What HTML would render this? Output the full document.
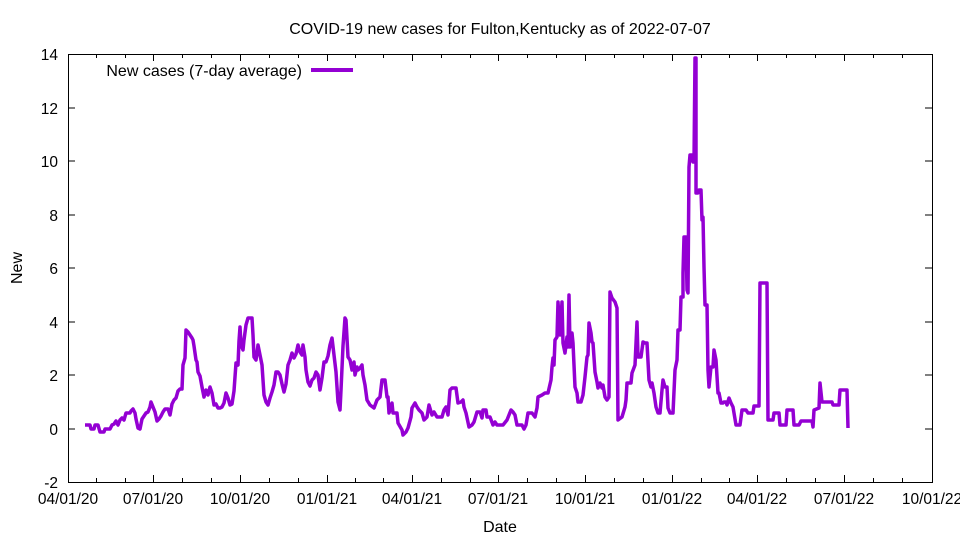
<!DOCTYPE html>
<html><head><meta charset="utf-8"><style>body{margin:0;background:#fff}svg{display:block}text{font-family:"Liberation Sans",sans-serif;font-size:16px;fill:#000}.t{font-size:15.5px}</style></head><body>
<svg width="960" height="540" viewBox="0 0 960 540" xmlns="http://www.w3.org/2000/svg">
<rect width="960" height="540" fill="#fff"/>
<text x="500" y="34" text-anchor="middle">COVID-19 new cases for Fulton,Kentucky as of 2022-07-07</text>
<g stroke="#000" stroke-width="1" fill="none">
<rect x="68.5" y="54.5" width="864" height="428"/>
<path d="M68 429h7M932 429h-7M68 375h7M932 375h-7M68 322h7M932 322h-7M68 268h7M932 268h-7M68 215h7M932 215h-7M68 161h7M932 161h-7M68 108h7M932 108h-7"/>
<path d="M153.5 482v-7M240.5 482v-7M327.5 482v-7M412.5 482v-7M498.5 482v-7M585.5 482v-7M672.5 482v-7M757.5 482v-7M844.5 482v-7M153.5 54v7M240.5 54v7M327.5 54v7M412.5 54v7M498.5 54v7M585.5 54v7M672.5 54v7M757.5 54v7M844.5 54v7"/>
<path d="M96.5 482v-4M125.5 482v-4M182.5 482v-4M211.5 482v-4M269.5 482v-4M298.5 482v-4M355.5 482v-4M383.5 482v-4M441.5 482v-4M470.5 482v-4M527.5 482v-4M556.5 482v-4M614.5 482v-4M643.5 482v-4M701.5 482v-4M729.5 482v-4M786.5 482v-4M815.5 482v-4M873.5 482v-4M902.5 482v-4M96.5 54v4M125.5 54v4M182.5 54v4M211.5 54v4M269.5 54v4M298.5 54v4M355.5 54v4M383.5 54v4M441.5 54v4M470.5 54v4M527.5 54v4M556.5 54v4M614.5 54v4M643.5 54v4M701.5 54v4M729.5 54v4M786.5 54v4M815.5 54v4M873.5 54v4M902.5 54v4"/>
</g>
<g text-anchor="end" class="t">
<text class="t" x="58" y="60">14</text><text class="t" x="58" y="114">12</text><text class="t" x="58" y="167">10</text><text class="t" x="58" y="221">8</text><text class="t" x="58" y="274">6</text><text class="t" x="58" y="328">4</text><text class="t" x="58" y="381">2</text><text class="t" x="58" y="435">0</text><text class="t" x="58" y="488">-2</text>
</g>
<g text-anchor="middle">
<text class="t" x="68" y="504">04/01/20</text><text class="t" x="153" y="504">07/01/20</text><text class="t" x="240" y="504">10/01/20</text><text class="t" x="327" y="504">01/01/21</text><text class="t" x="412" y="504">04/01/21</text><text class="t" x="498" y="504">07/01/21</text><text class="t" x="585" y="504">10/01/21</text><text class="t" x="672" y="504">01/01/22</text><text class="t" x="757" y="504">04/01/22</text><text class="t" x="844" y="504">07/01/22</text><text class="t" x="932" y="504">10/01/22</text>
<text x="500" y="532">Date</text>
<text x="0" y="0" transform="translate(22,268) rotate(-90)">New</text>
</g>
<text x="302" y="76" text-anchor="end">New cases (7-day average)</text>
<path d="M311 70h42" stroke="#9400d3" stroke-width="4"/>
<polyline fill="none" stroke="#9400d3" stroke-width="3.5" stroke-linejoin="round" points="85,425 90,425 91,429 94,429 95,425 98,425 100,432 104,432 105,429 110,429 112,425 114,424 116,421 118,425 120,420 122,418 124,420 126,413 130,413 131,411 133,409 135,413 136,419 138,428 140,429 142,419 144,416 146,413 148,412 150,407 151,402 153,407 155,412 157,421 159,419 161,416 163,412 165,409 168,409 170,415 172,404 174,400 176,398 178,391 180,389 182,389 183,365 185,358 186,330 188,332 190,335 192,338 193,340 194,346 196,360 197,362 198,372 200,376 202,387 204,397 206,390 208,395 210,387 212,393 214,405 216,404 218,408 220,408 222,407 224,403 226,393 228,398 230,405 232,404 234,391 236,363 238,365 239,341 240,327 241,345 243,350 244,340 246,325 248,318 252,318 253,335 254,357 256,360 257,353 258,345 260,355 262,365 264,395 266,402 268,405 270,398 272,392 274,385 276,372 278,372 280,375 282,384 284,392 286,384 288,365 290,360 292,353 294,358 296,354 298,345 300,352 302,355 303,345 305,357 306,370 308,382 310,386 312,380 314,378 316,372 318,375 320,390 322,378 324,362 326,362 328,356 330,345 332,338 334,355 336,372 338,402 340,410 341,390 343,346 345,318 346,320 348,357 350,360 352,370 354,362 355,375 357,367 358,370 360,368 362,365 363,375 365,385 367,400 370,405 374,408 377,400 380,397 382,380 385,380 387,397 388,397 389,413 392,403 393,413 397,413 398,423 402,430 403,435 406,432 408,428 411,417 412,408 415,403 417,407 419,410 422,413 424,420 427,417 429,405 432,415 434,412 437,417 442,417 444,410 446,407 448,415 450,390 452,388 456,388 458,403 461,402 463,400 464,407 466,413 469,427 472,425 474,422 477,412 480,412 482,418 483,410 486,410 487,417 490,417 493,425 495,422 497,425 503,425 507,420 511,410 513,412 515,415 517,425 522,425 524,429 526,425 528,413 532,413 535,417 537,408 538,397 542,395 545,393 548,393 551,380 552,367 553,358 554,365 555,340 557,337 558,302 560,335 562,302 563,343 565,353 567,337 568,347 569,295 570,347 572,333 573,343 575,387 577,393 578,402 581,402 583,395 585,377 587,357 588,355 589,323 591,333 592,342 593,343 595,372 597,382 598,388 600,383 602,388 603,385 605,397 607,400 609,397 610,292 612,298 615,302 617,308 618,420 622,417 625,407 626,400 627,383 631,383 632,373 635,365 637,322 638,357 641,357 643,342 645,343 647,343 649,380 651,387 652,383 654,393 656,407 658,413 660,413 662,390 663,380 665,387 667,387 668,408 670,413 673,413 675,370 677,360 678,330 680,330 681,297 683,297 683,273 684,237 686,237 687,290 688,293 689,167 690,155 692,155 693,162 694,162 695,58 696,58 696,193 698,193 699,190 701,190 702,220 703,217 704,267 705,305 707,305 708,370 709,387 711,367 713,367 714,350 716,360 718,393 719,393 721,403 723,403 724,402 726,402 727,405 729,398 731,403 733,407 734,413 736,425 740,425 742,410 746,410 748,413 753,413 754,406 759,406 760,283 767,283 768,420 773,420 774,413 779,413 780,425 786,425 787,410 793,410 794,425 799,425 801,421 812,421 813,427 814,410 819,408 820,383 822,402 832,402 833,405 839,405 840,390 847,390 848,428"/>
</svg>
</body></html>
